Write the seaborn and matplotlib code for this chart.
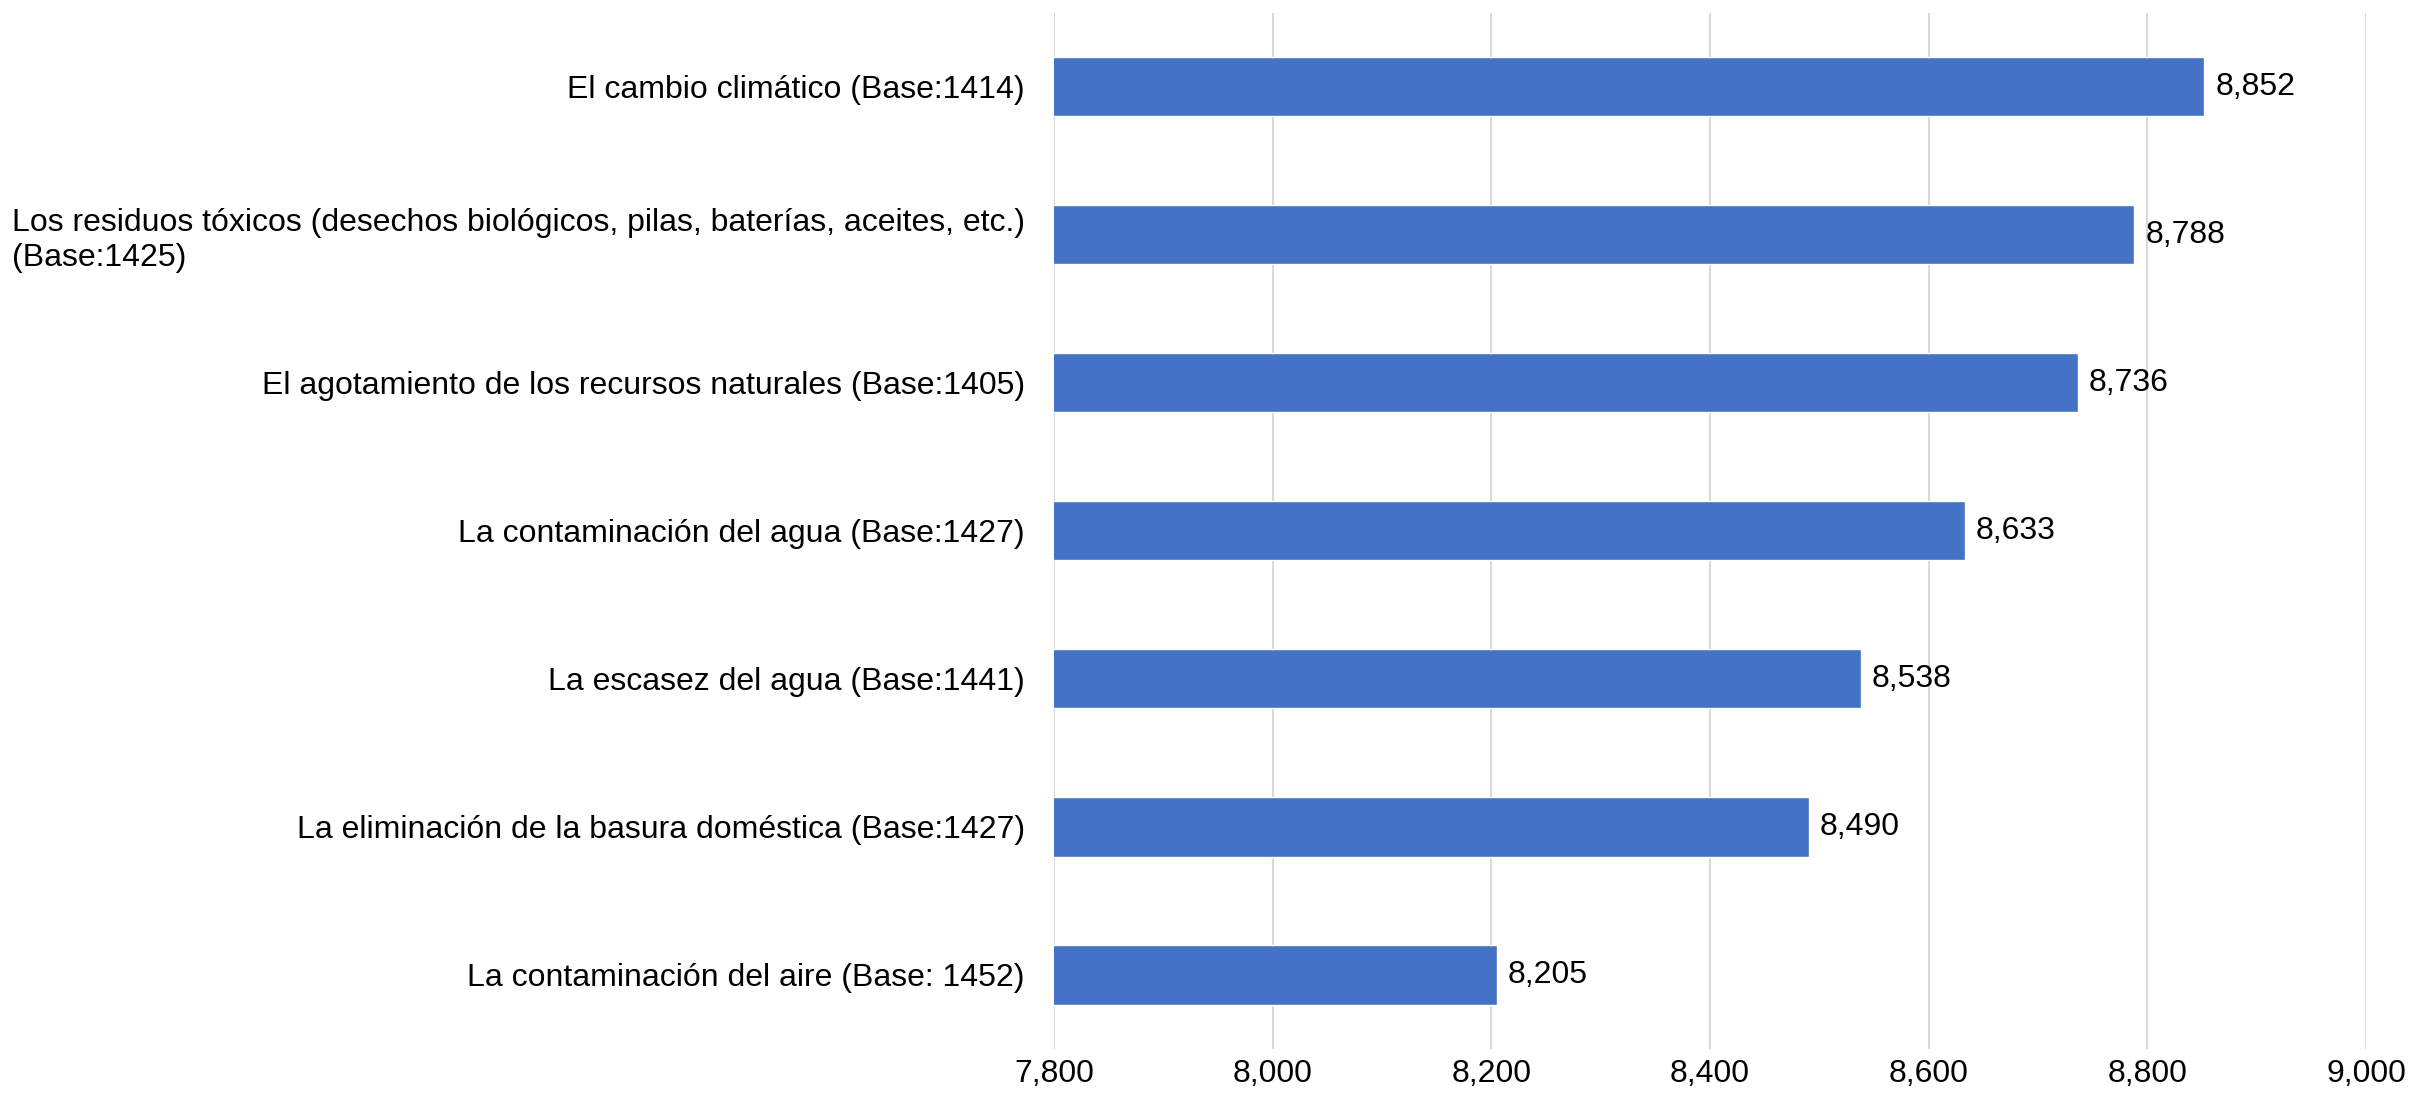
import seaborn as sns
import matplotlib.pyplot as plt
import pandas as pd

# Valores
categorias = [
    "El cambio climático (Base:1414)",
    "Los residuos tóxicos (desechos biológicos, pilas, baterías, aceites, etc.)\n(Base:1425)",
    "El agotamiento de los recursos naturales (Base:1405)",
    "La contaminación del agua (Base:1427)",
    "La escasez del agua (Base:1441)",
    "La eliminación de la basura doméstica (Base:1427)",
    "La contaminación del aire (Base: 1452)",
]
valores = [8.852, 8.788, 8.736, 8.633, 8.538, 8.490, 8.205]
ticks_x = [7.8, 8.0, 8.2, 8.4, 8.6, 8.8, 9.0]

df = pd.DataFrame({"categoria": categorias, "valor": valores})

sns.set_style("white")
plt.rcParams['font.family'] = ['Liberation Sans', 'DejaVu Sans']

fig = plt.figure(figsize=(24.12, 11.03), dpi=100)
ax = fig.add_axes([0.437, 0.049, 0.544, 0.9395])

sns.barplot(data=df, x="valor", y="categoria", orient="h", color="#4472C4",
            width=0.4, saturation=1, ax=ax)

def coma(v):
    return f"{v:.3f}".replace(".", ",")

ax.bar_label(ax.containers[0], labels=[coma(v) for v in valores],
             padding=8, fontsize=23, color="black")

ax.set_xlim(7.8, 9.0)
ax.set_xticks(ticks_x)
ax.set_xticklabels([coma(t) for t in ticks_x])
ax.set_xlabel("")
ax.set_ylabel("")
ax.grid(axis="x", color="#d9d9d9", linewidth=1.5)
ax.set_axisbelow(True)
for s in ax.spines.values():
    s.set_visible(False)
ax.tick_params(axis="x", length=0, pad=7, labelsize=23, labelcolor="black")
ax.tick_params(axis="y", length=0, pad=21, labelsize=23, labelcolor="black")
for lbl in ax.get_yticklabels():
    lbl.set_multialignment("left")

fig.savefig("out.png", dpi=100)
